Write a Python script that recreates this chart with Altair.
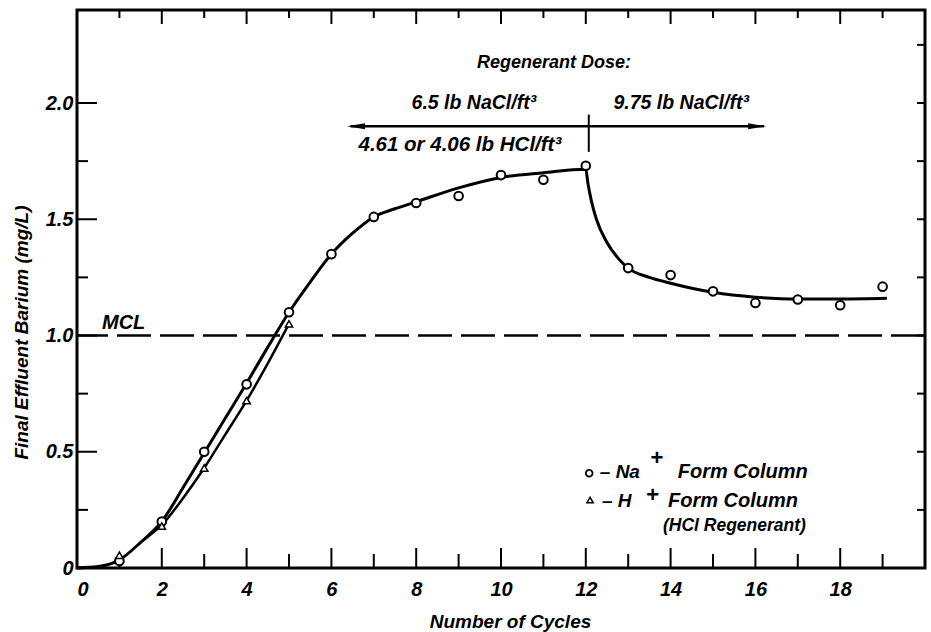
import altair as alt
import pandas as pd

# ---- observed data points ----
na_x = list(range(1, 20))
na_y = [0.03, 0.20, 0.50, 0.79, 1.10, 1.35, 1.51, 1.57, 1.60, 1.69, 1.67, 1.73,
        1.29, 1.26, 1.19, 1.14, 1.155, 1.13, 1.21]
h_x = [1, 2, 3, 4, 5]
h_y = [0.055, 0.18, 0.43, 0.72, 1.05]

# ---- fitted curves ----
na_curve_x = [0, 0.5, 1, 1.5, 2, 2.5, 3, 3.5, 4, 4.5, 5, 5.5, 6, 6.5, 7, 7.5, 8,
              9, 10, 11, 12, 12.05, 12.13, 12.25, 12.5, 12.75, 13, 13.5, 14, 15,
              16, 17, 18, 19.1]
na_curve_y = [0, 0.006, 0.035, 0.11, 0.20, 0.345, 0.495, 0.645, 0.795, 0.95,
              1.10, 1.23, 1.35, 1.44, 1.51, 1.545, 1.575, 1.635, 1.68, 1.70,
              1.715, 1.655, 1.58, 1.50, 1.40, 1.335, 1.29, 1.25, 1.225, 1.186,
              1.165, 1.157, 1.157, 1.16]
h_curve_x = [1.6, 2, 2.5, 3, 3.5, 4, 4.5, 5]
h_curve_y = [0.125, 0.185, 0.30, 0.43, 0.575, 0.72, 0.88, 1.05]

mcl_value = 1.0

# ---- axis ticks ----
x_labels = [0, 2, 4, 6, 8, 10, 12, 14, 16, 18]
x_major = [2, 4, 6, 8, 10, 12, 14, 16, 18]
x_minor = [1, 3, 5, 7, 9, 11, 13, 15, 17, 19]
y_labels = [0, 0.5, 1.0, 1.5, 2.0]
y_major = [0.5, 1.0, 1.5, 2.0]
y_minor = [0.25, 0.75, 1.25, 1.75]
y_right = [0.25, 0.5, 0.75, 1.0, 1.25, 1.5, 1.75, 2.0, 2.25]

FONT = "Liberation Sans"
W, H = 848, 558

xscale = alt.Scale(domain=[0, 20], nice=False, zero=False)
yscale = alt.Scale(domain=[0, 2.4], nice=False, zero=False)

x_axis = alt.Axis(values=x_labels, ticks=False, tickSize=0, grid=False, domain=False,
                  labelFont=FONT, labelFontSize=20, labelFontStyle="italic",
                  labelFontWeight="bold", labelPadding=11, labelColor="black",
                  title="Number of Cycles", titleFont=FONT, titleFontSize=19,
                  titleFontStyle="italic", titleFontWeight="bold", titleColor="black",
                  titleX=433, titleY=59, titleBaseline="alphabetic", titleAlign="center")
y_axis = alt.Axis(values=y_labels, ticks=False, tickSize=0, grid=False, domain=False,
                  labelFont=FONT, labelFontSize=20, labelFontStyle="italic",
                  labelFontWeight="bold", labelPadding=4, labelColor="black",
                  labelExpr="datum.value == 0 ? '0' : format(datum.value, '.1f')",
                  title="Final Effluent Barium (mg/L)", titleFont=FONT, titleFontSize=19,
                  titleFontStyle="italic", titleFontWeight="bold", titleColor="black",
                  titleX=-50, titleY=322, titleBaseline="alphabetic", titleAlign="center")


def X():
    return alt.X("x:Q", scale=xscale, axis=x_axis)


def Y():
    return alt.Y("y:Q", scale=yscale, axis=y_axis)


na_curve = alt.Chart(pd.DataFrame({"x": na_curve_x, "y": na_curve_y})).mark_line(
    color="black", strokeWidth=3, interpolate="monotone").encode(x=X(), y=Y())
h_curve = alt.Chart(pd.DataFrame({"x": h_curve_x, "y": h_curve_y})).mark_line(
    color="black", strokeWidth=2.5, interpolate="monotone").encode(x=X(), y=Y())

mcl = alt.Chart(pd.DataFrame({"y": [mcl_value]})).mark_rule(
    color="black", strokeWidth=2.5, strokeDash=[34, 9]).encode(y=Y())

na_pts = alt.Chart(pd.DataFrame({"x": na_x, "y": na_y})).mark_point(
    shape="circle", filled=True, fill="white", stroke="black", strokeWidth=2,
    size=75, opacity=1).encode(x=X(), y=Y())
h_pts = alt.Chart(pd.DataFrame({"x": h_x, "y": h_y})).mark_point(
    shape="triangle-up", filled=True, fill="white", stroke="black", strokeWidth=1.5,
    size=55, opacity=1).encode(x=X(), y=Y())


def xticks(vals, y0, y1):
    return alt.Chart(pd.DataFrame({"x": vals})).mark_rule(
        color="black", strokeWidth=2).encode(x=X(), y=alt.value(y0), y2=alt.value(y1))


def yticks(vals, x0, x1):
    return alt.Chart(pd.DataFrame({"y": vals})).mark_rule(
        color="black", strokeWidth=2).encode(y=Y(), x=alt.value(x0), x2=alt.value(x1))


tick_layers = [
    xticks(x_major, H, H - 20),
    xticks(x_minor, H, H - 14),
    xticks(x_major, 0, 14),
    xticks(x_minor, 0, 8),
    yticks(y_major, 0, 20),
    yticks(y_minor, 0, 11),
    yticks(y_right, W, W - 8),
]

# ---- annotations ----
arrow_y = 1.90
arrow = alt.Chart(pd.DataFrame({"x": [6.45], "x2": [16.2], "y": [arrow_y]})).mark_rule(
    color="black", strokeWidth=2.5).encode(x=X(), x2="x2:Q", y=Y())
sep = alt.Chart(pd.DataFrame({"x": [12.07], "y": [1.79], "y2": [1.95]})).mark_rule(
    color="black", strokeWidth=2).encode(x=X(), y=Y(), y2="y2:Q")
head_l = alt.Chart(pd.DataFrame({"x": [6.58], "y": [arrow_y]})).mark_point(
    shape="M-1,0L1,-0.32L1,0.32Z", filled=True, color="black", size=324,
    opacity=1).encode(x=X(), y=Y())
head_r = alt.Chart(pd.DataFrame({"x": [16.04], "y": [arrow_y]})).mark_point(
    shape="M1,0L-1,-0.32L-1,0.32Z", filled=True, color="black", size=324,
    opacity=1).encode(x=X(), y=Y())


def texts(df, align, baseline, size, weight="bold", style="italic"):
    return alt.Chart(pd.DataFrame(df)).mark_text(
        align=align, baseline=baseline, font=FONT, fontSize=size,
        fontStyle=style, fontWeight=weight, color="black", fill="black").encode(
        x=X(), y=Y(), text="t:N")


dose_title = texts({"x": [11.25], "y": [2.17], "t": ["Regenerant Dose:"]},
                   "center", "middle", 18)
dose_nacl = texts({"x": [9.36, 14.25], "y": [2.0, 2.0],
                   "t": ["6.5 lb NaCl/ft³", "9.75 lb NaCl/ft³"]},
                  "center", "middle", 19.5)
dose_hcl = texts({"x": [9.03], "y": [1.82], "t": ["4.61 or 4.06 lb HCl/ft³"]},
                 "center", "middle", 20.5)

mcl_text = texts({"x": [0.59], "y": [1.03], "t": ["MCL"]}, "left", "alphabetic", 20)

legend_lead = texts({
    "x": [12.33, 12.38],
    "y": [0.386, 0.262],
    "t": ["– Na", "– H"],
}, "left", "alphabetic", 19)
legend_form = texts({
    "x": [14.17, 13.94],
    "y": [0.386, 0.262],
    "t": ["Form Column", "Form Column"],
}, "left", "alphabetic", 20)
legend_hcl = texts({"x": [13.82], "y": [0.159], "t": ["(HCl Regenerant)"]},
                   "left", "alphabetic", 17.5)
legend_plus = texts({
    "x": [13.68, 13.58],
    "y": [0.472, 0.313],
    "t": ["+", "+"],
}, "center", "middle", 22, weight="bold", style="normal")

leg_circle = alt.Chart(pd.DataFrame({"x": [12.08], "y": [0.408]})).mark_point(
    shape="circle", filled=True, fill="white", stroke="black", strokeWidth=1.8,
    size=45, opacity=1).encode(x=X(), y=Y())
leg_tri = alt.Chart(pd.DataFrame({"x": [12.1], "y": [0.292]})).mark_point(
    shape="triangle-up", filled=True, fill="white", stroke="black", strokeWidth=1.5,
    size=40, opacity=1).encode(x=X(), y=Y())

chart = alt.layer(
    na_curve, h_curve, mcl, *tick_layers, arrow, sep, head_l, head_r,
    na_pts, h_pts, dose_title, dose_nacl, dose_hcl, mcl_text, legend_lead,
    legend_form, legend_hcl, legend_plus, leg_circle, leg_tri,
).properties(
    width=W, height=H,
    padding={"left": 77, "top": 10, "right": 6, "bottom": 64},
    autosize=alt.AutoSizeParams(type="none"),
    background="white",
).configure_view(stroke="black", strokeWidth=3)

chart.save("out.html", embed_options={"renderer": "svg", "actions": False})
